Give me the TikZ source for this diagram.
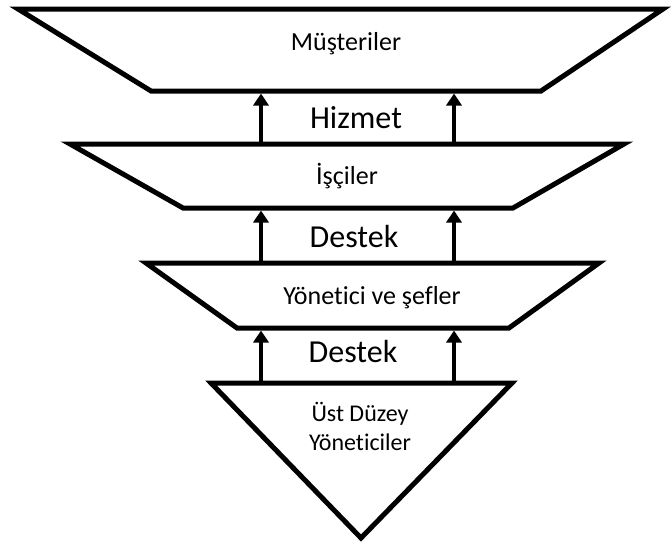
\documentclass[tikz,border=0pt]{standalone}
\usepackage{fontspec}
\setmainfont{Carlito}[Ligatures=NoCommon]
\usetikzlibrary{arrows.meta}
\begin{document}
\begin{tikzpicture}[x=1pt,y=-1pt,
  tier/.style={draw=black,line width=5pt,line join=miter,fill=white},
  tierlabel/.style={font=\fontsize{26}{30}\selectfont,inner sep=0pt,anchor=base},
  flowlabel/.style={font=\fontsize{32}{36}\selectfont,inner sep=0pt,anchor=base},
  uparrow/.style={line width=3.5pt,-{Triangle[width=15pt,length=12pt]},shorten >=2.5pt}]
\useasboundingbox (0,0) rectangle (672,547);

% corners of the tiers
\coordinate (t1a) at (18,9);   \coordinate (t1b) at (663,9);
\coordinate (t1c) at (541,91); \coordinate (t1d) at (151,91);
\coordinate (t2a) at (70,144); \coordinate (t2b) at (624,144);
\coordinate (t2c) at (513,208);\coordinate (t2d) at (183,208);
\coordinate (t3a) at (146,263);\coordinate (t3b) at (599,263);
\coordinate (t3c) at (509,328);\coordinate (t3d) at (237,328);
\coordinate (t4a) at (211,383);\coordinate (t4b) at (512,383);
\coordinate (t4c) at (361,538);

% tiers
\draw[tier] (t1a) -- (t1b) -- (t1c) -- (t1d) -- cycle;
\draw[tier] (t2a) -- (t2b) -- (t2c) -- (t2d) -- cycle;
\draw[tier] (t3a) -- (t3b) -- (t3c) -- (t3d) -- cycle;
\draw[tier] (t4a) -- (t4b) -- (t4c) -- cycle;

% columns of the arrows
\coordinate (colL) at (261,0);
\coordinate (colR) at (454,0);

% arrows between the tiers
\draw[uparrow] (colL |- t2a) -- (colL |- t1d);
\draw[uparrow] (colR |- t2a) -- (colR |- t1d);
\draw[uparrow] (colL |- t3a) -- (colL |- t2d);
\draw[uparrow] (colR |- t3a) -- (colR |- t2d);
\draw[uparrow] (colL |- t4a) -- (colL |- t3d);
\draw[uparrow] (colR |- t4a) -- (colR |- t3d);

% labels
\node[tierlabel] (musteri) at (346,50) {Müşteriler};
\node[flowlabel] (hizmet) at (356,128) {Hizmet};
\node[tierlabel] (isci) at (347,184) {İşçiler};
\node[flowlabel] (destek1) at (354,247) {Destek};
\node[tierlabel] (yonetici) at (372,304) {Yönetici ve şefler};
\node[flowlabel] (destek2) at (353,362) {Destek};
\node[font=\fontsize{24}{29}\selectfont,inner sep=0pt,align=center] (ust) at (360,426) {Üst Düzey\\Yöneticiler};
\end{tikzpicture}
\end{document}
